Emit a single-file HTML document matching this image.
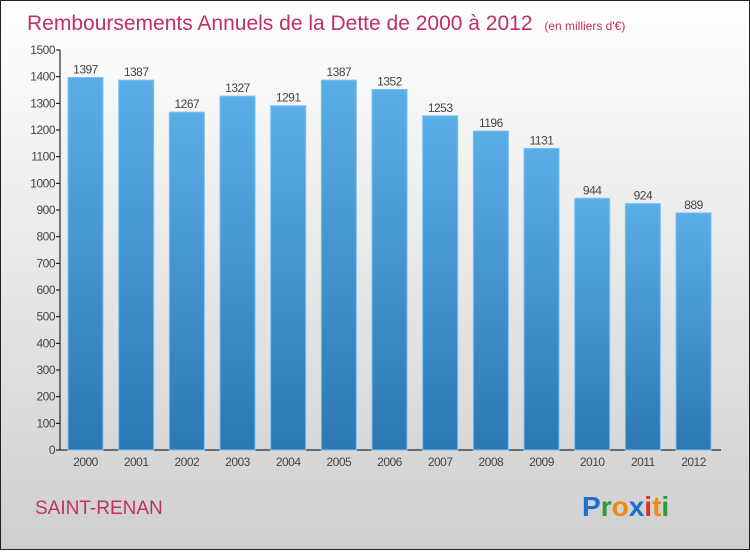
<!DOCTYPE html>
<html><head><meta charset="utf-8"><style>
body{margin:0;width:750px;height:550px;overflow:hidden;font-family:"Liberation Sans",sans-serif}
</style></head><body>
<svg id="chart" width="750" height="550" xmlns="http://www.w3.org/2000/svg">
<defs>
<linearGradient id="bg" x1="0" y1="0" x2="0" y2="1"><stop offset="0" stop-color="#ffffff"/><stop offset="1" stop-color="#cfcfcf"/></linearGradient>
<linearGradient id="bar" x1="0" y1="0" x2="0" y2="1"><stop offset="0" stop-color="#5aaee8"/><stop offset="1" stop-color="#2a78b4"/></linearGradient>
</defs>
<rect x="0.5" y="0.5" width="749" height="549" fill="url(#bg)" stroke="#222"/>
<text x="27" y="30" font-size="21" fill="#c0305f">Remboursements Annuels de la Dette de 2000 à 2012 <tspan font-size="12" dx="6">(en milliers d'€)</tspan></text>
<text x="35" y="514" font-size="19" fill="#c0305f">SAINT-RENAN</text>
<g font-size="28" font-weight="bold">
<text x="582" y="516"><tspan fill="#1a6fd0">P</tspan><tspan fill="#2a9a3a">r</tspan><tspan fill="#f08a10">o</tspan><tspan fill="#1a6fd0">x</tspan><tspan fill="#e03020">i</tspan><tspan fill="#f08a10">t</tspan><tspan fill="#2a9a3a">i</tspan></text>
</g>
<g id="plot"></g>
</svg>
<script>
const years=["2000","2001","2002","2003","2004","2005","2006","2007","2008","2009","2010","2011","2012"];
const values=[1397,1387,1267,1327,1291,1387,1352,1253,1196,1131,944,924,889];
const yTicks=[0,100,200,300,400,500,600,700,800,900,1000,1100,1200,1300,1400,1500];
const NS="http://www.w3.org/2000/svg";
const g=document.getElementById('plot');
const y=v=>450-v*400/1500;
const x=i=>68+i*50.67;
function mk(t,a){const e=document.createElementNS(NS,t);for(const k in a)e.setAttribute(k,a[k]);g.appendChild(e);return e;}
let e=mk('line',{x1:60,y1:50,x2:60,y2:450,stroke:'#000'});


e=mk('line',{x1:60,y1:450,x2:721,y2:450,stroke:'#000'});


yTicks.forEach(t=>{
 let l=mk('line',{x1:56,y1:y(t),x2:60,y2:y(t),stroke:'#000'});
 
 
 let tx=mk('text',{x:55,y:y(t)+4,'font-size':12,fill:'#444','text-anchor':'end','letter-spacing':'-0.5'});
 tx.textContent=t;
 
 
});
years.forEach((yr,i)=>{
 const v=values[i];
 let r=mk('rect',{x:x(i),y:y(v),width:35,height:450-y(v),fill:'url(#bar)',stroke:'#7cc0f0','stroke-width':1});
 
 
 let t=mk('text',{x:x(i)+17.5,y:y(v)-4,'font-size':12,fill:'#444','text-anchor':'middle','letter-spacing':'-0.5'});
 t.textContent=v;
 
 
 let xl=mk('text',{x:x(i)+17.5,y:466,'font-size':12,fill:'#444','text-anchor':'middle','letter-spacing':'-0.5'});
 xl.textContent=yr;
 
 
});
</script>
</body></html>
